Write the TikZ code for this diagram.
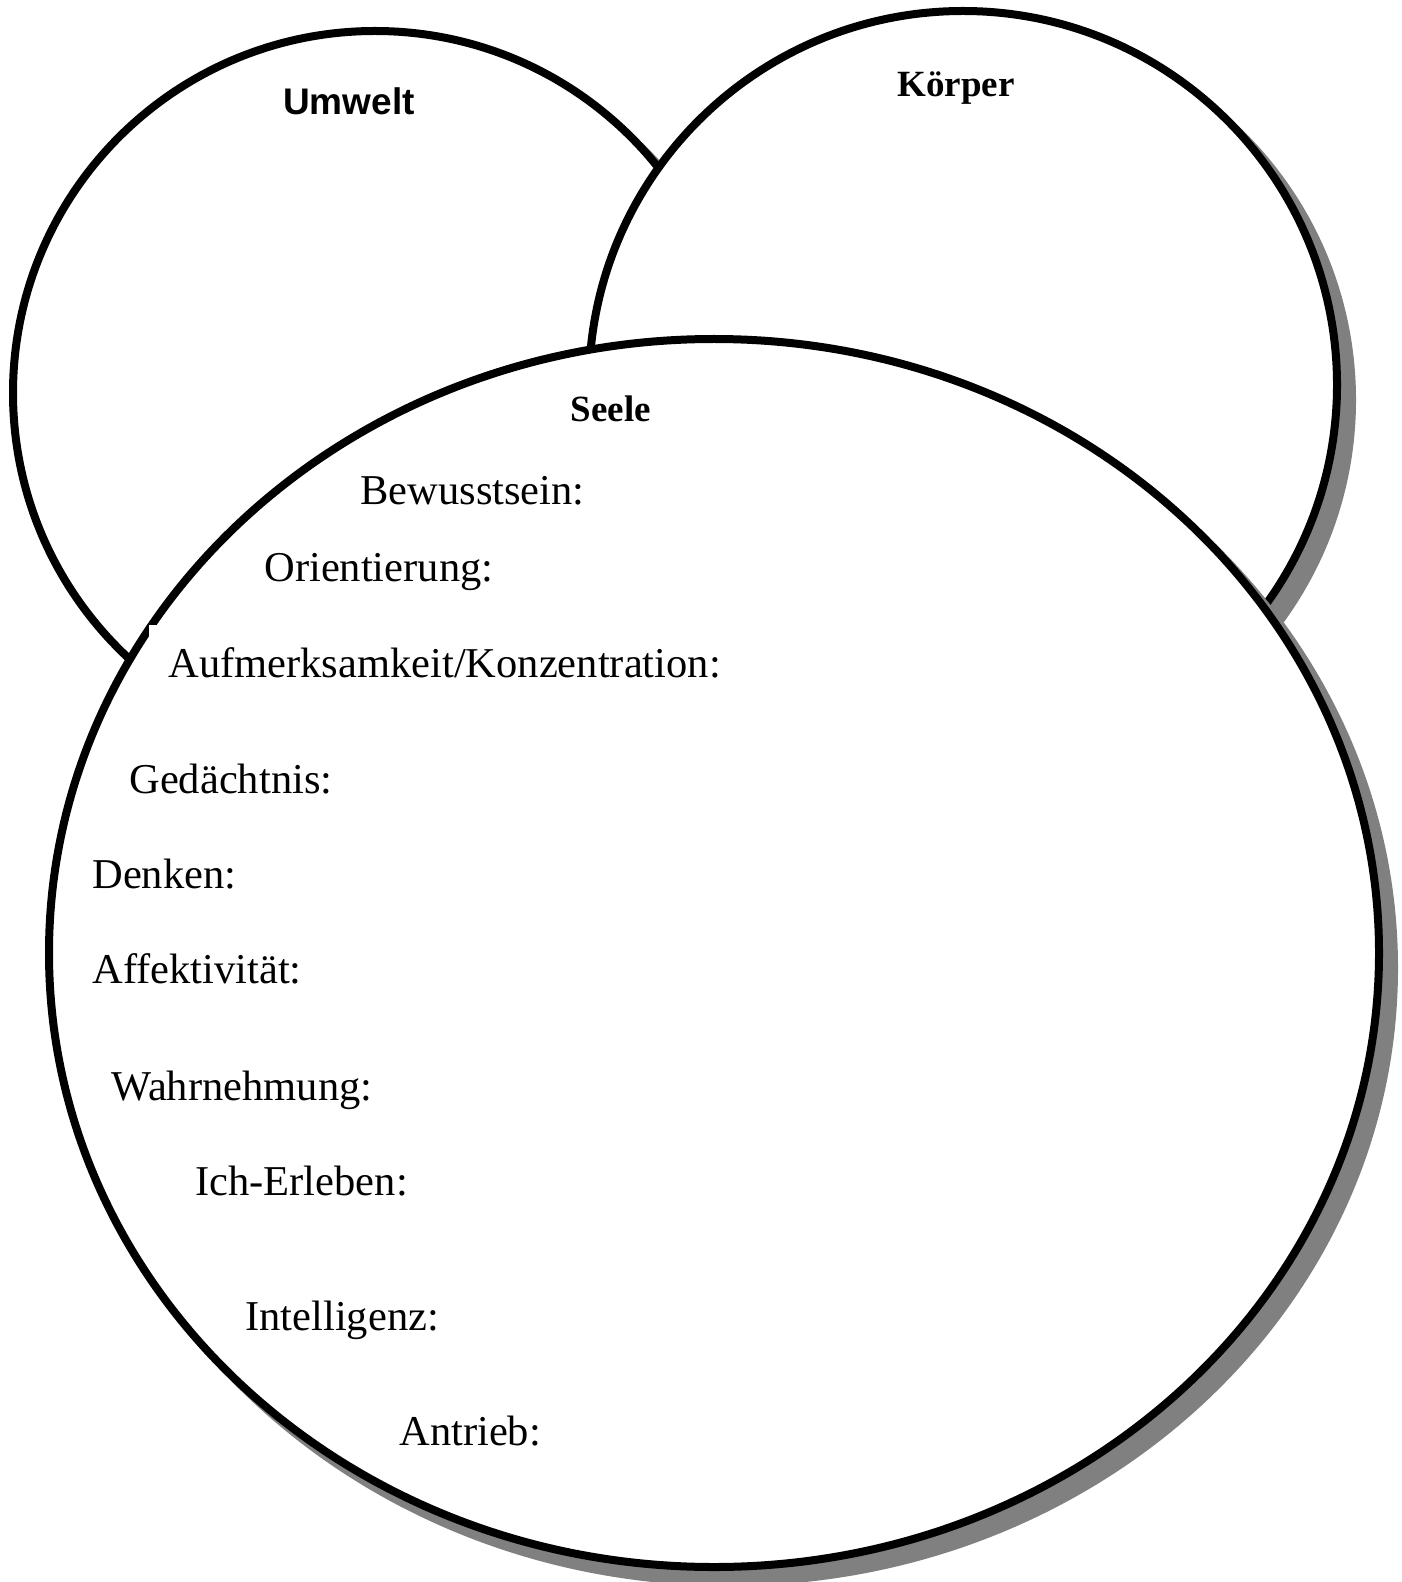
\documentclass[tikz,border=0pt]{standalone}
\usepackage{fontspec}
\setmainfont{Liberation Serif}
\newfontfamily\arialfont{Liberation Sans}
\definecolor{shadowgray}{HTML}{808080}
\tikzset{
  blob/.style={draw=black, line width=4pt, fill=white},
  shadowblob/.style={draw=shadowgray, fill=shadowgray, line width=4pt, shift={(15,15)}},
  lbl/.style={inner sep=0pt, anchor=base west, font=\fontsize{21.25}{24}\selectfont},
  head/.style={inner sep=0pt, anchor=base, font=\fontsize{18.5}{22}\selectfont\bfseries},
  headsans/.style={inner sep=0pt, anchor=base, font=\arialfont\fontsize{18.5}{22}\selectfont\bfseries}
}
\begin{document}
\begin{tikzpicture}[x=0.5pt,y=-0.5pt]
\useasboundingbox (0,0) rectangle (1401,1582);
\fill[white] (0,0) rectangle (1401,1582);
% Umwelt
\draw[shadowblob] (375,393) ellipse [x radius=181pt, y radius=181pt];
\draw[blob] (375,393) ellipse [x radius=181pt, y radius=181pt];
% Koerper
\draw[shadowblob] (963,385) ellipse [x radius=187pt, y radius=187pt];
\draw[blob] (963,385) ellipse [x radius=187pt, y radius=187pt];
% Seele
\draw[shadowblob] (714,953) ellipse [x radius=332.5pt, y radius=307pt];
\draw[blob] (714,953) ellipse [x radius=332.5pt, y radius=307pt];
% white text frame corner
\fill[white] (149,625) rectangle (730,700);
% headings
\node[headsans] (umwelt) at (349,115) {Umwelt};
\node[head] (koerper) at (956,97) {Körper};
\node[head] (seele) at (611,422) {Seele};
% labels
\node[lbl] (bew) at (360,505) {Bewusstsein:};
\node[lbl] (ori) at (264,581) {Orientierung:};
\node[lbl] (auf) at (168,677) {Aufmerksamkeit/Konzentration:};
\node[lbl] (ged) at (129,793) {Gedächtnis:};
\node[lbl] (den) at (92,888) {Denken:};
\node[lbl] (aff) at (92,983) {Affektivität:};
\node[lbl] (wah) at (111,1100) {Wahrnehmung:};
\node[lbl] (ich) at (195,1195) {Ich-Erleben:};
\node[lbl] (int) at (245,1330) {Intelligenz:};
\node[lbl] (ant) at (399,1445) {Antrieb:};
\end{tikzpicture}
\end{document}
